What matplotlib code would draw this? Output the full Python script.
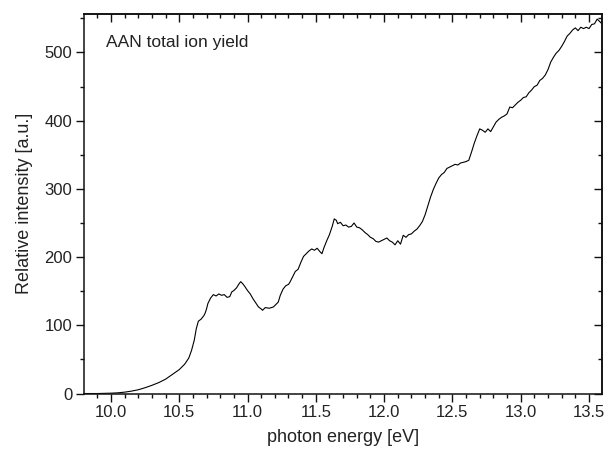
import numpy as np
import matplotlib.pyplot as plt
from matplotlib.ticker import MultipleLocator

plt.switch_backend('Agg')
plt.rcParams['font.family'] = ['Liberation Sans', 'DejaVu Sans']

# photon energy [eV] and total ion yield
energy = [
    9.80, 9.90, 10.00, 10.05, 10.10, 10.15, 10.20, 10.25, 10.30, 10.35,
    10.40, 10.45, 10.50, 10.54, 10.57, 10.59, 10.61, 10.625, 10.64, 10.66,
    10.68, 10.69, 10.70, 10.71, 10.73, 10.75, 10.77, 10.79, 10.81, 10.83,
    10.85, 10.87, 10.885, 10.90, 10.92, 10.935, 10.95, 10.965, 10.98, 11.00,
    11.02, 11.04, 11.06, 11.08, 11.10, 11.11, 11.13, 11.16, 11.19, 11.21,
    11.225, 11.24, 11.26, 11.28, 11.30, 11.31, 11.33, 11.35, 11.37, 11.39,
    11.41, 11.43, 11.45, 11.47, 11.49, 11.51, 11.53, 11.545, 11.56, 11.58,
    11.60, 11.62, 11.635, 11.65, 11.66, 11.68, 11.70, 11.72, 11.74, 11.76,
    11.78, 11.80, 11.82, 11.84, 11.86, 11.88, 11.90, 11.92, 11.94, 11.96,
    11.98, 12.00, 12.02, 12.04, 12.06, 12.08, 12.10, 12.12, 12.14, 12.16,
    12.18, 12.20, 12.22, 12.24, 12.26, 12.28, 12.30, 12.32, 12.34, 12.36,
    12.38, 12.40, 12.42, 12.44, 12.46, 12.48, 12.50, 12.52, 12.54, 12.56,
    12.58, 12.60, 12.62, 12.64, 12.66, 12.68, 12.70, 12.72, 12.74, 12.76,
    12.78, 12.80, 12.82, 12.84, 12.86, 12.88, 12.90, 12.92, 12.94, 12.96,
    12.98, 13.00, 13.02, 13.04, 13.06, 13.08, 13.10, 13.12, 13.14, 13.16,
    13.18, 13.20, 13.22, 13.24, 13.26, 13.28, 13.30, 13.32, 13.34, 13.36,
    13.38, 13.40, 13.42, 13.44, 13.46, 13.48, 13.50, 13.52, 13.54, 13.56,
    13.575, 13.59, 13.60,
]
intensity = [
    0, 0, 0.5, 1, 2, 3.5, 5.5, 8.5, 12, 16,
    21, 28, 35, 43, 52, 63, 78, 95, 106, 109,
    114, 118, 124, 132, 140, 145, 143, 146, 144, 145,
    141, 142, 149, 151, 155, 160, 164, 161, 157, 151,
    146, 139, 133, 127, 124, 122, 126, 125, 127, 131,
    134, 144, 153, 158, 160, 163, 171, 179, 182, 192,
    201, 205, 209, 212, 210, 213, 208, 205, 214, 224,
    233, 245, 256, 254, 249, 251, 246, 247, 244, 245,
    250, 244, 243, 240, 236, 233, 229, 227, 223, 222,
    224, 226, 228, 224, 222, 218, 224, 219, 232, 229,
    233, 234, 238, 241, 246, 252, 262, 275, 288, 299,
    308, 316, 321, 324, 330, 332, 334, 336, 335, 338,
    339, 340, 342, 354, 367, 378, 388, 386, 383, 388,
    384, 391, 398, 402, 405, 407, 410, 420, 419, 423,
    427, 430, 434, 435, 441, 445, 450, 452, 459, 462,
    467, 475, 486, 493, 499, 503, 509, 516, 524, 528,
    533, 536, 532, 537, 535, 537, 535, 541, 542, 549,
    546, 543, 545,
]

text_color = '#222222'

fig = plt.figure(figsize=(6.05, 4.53), dpi=100)
ax = fig.add_axes([0.1393, 0.1313, 0.8557, 0.8387])

ax.plot(energy, intensity, color='black', linewidth=0.8)

ax.set_xlim(9.805, 13.595)
ax.set_ylim(0, 557)

ax.xaxis.set_major_locator(MultipleLocator(0.5))
ax.xaxis.set_minor_locator(MultipleLocator(0.1))
ax.yaxis.set_major_locator(MultipleLocator(100))
ax.yaxis.set_minor_locator(MultipleLocator(50))
ax.xaxis.set_major_formatter(plt.FormatStrFormatter('%.1f'))

for s in ax.spines.values():
    s.set_linewidth(1.1)
    s.set_color('#111111')

ax.tick_params(which='both', direction='out', top=False, right=False,
               colors='#111111', labelcolor=text_color, labelsize=12, width=1.0)
ax.tick_params(which='major', length=5.5, pad=3)
ax.tick_params(which='minor', length=3)

# mirrored inward ticks on top and right
sec_x = ax.secondary_xaxis('top')
sec_x.xaxis.set_major_locator(MultipleLocator(0.5))
sec_x.xaxis.set_minor_locator(MultipleLocator(0.1))
sec_x.tick_params(which='both', direction='in', labeltop=False, width=1.0, colors='#111111')
sec_x.tick_params(which='major', length=5.5)
sec_x.tick_params(which='minor', length=3)
sec_x.spines['top'].set_linewidth(1.1)

sec_y = ax.secondary_yaxis('right')
sec_y.yaxis.set_major_locator(MultipleLocator(100))
sec_y.yaxis.set_minor_locator(MultipleLocator(50))
sec_y.tick_params(which='both', direction='in', labelright=False, width=1.0, colors='#111111')
sec_y.tick_params(which='major', length=5.5)
sec_y.tick_params(which='minor', length=3)
sec_y.spines['right'].set_linewidth(1.1)

ax.set_xlabel('photon energy [eV]', fontsize=13, color=text_color, labelpad=6)
ax.set_ylabel('Relative intensity [a.u.]', fontsize=13, color=text_color, labelpad=8)

ax.text(0.042, 0.925, 'AAN total ion yield', transform=ax.transAxes,
        fontsize=12.5, color=text_color, va='center', ha='left')

fig.savefig('out.png', dpi=100)
